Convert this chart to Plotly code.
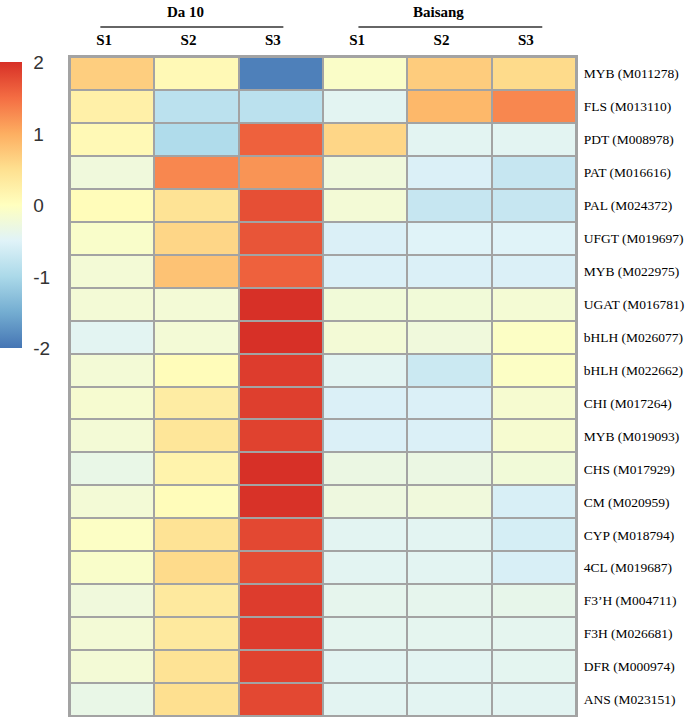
import plotly.graph_objects as go

columns = ["S1", "S2", "S3", "S1 ", "S2 ", "S3 "]
column_text = ["S1", "S2", "S3", "S1", "S2", "S3"]
groups = ["Da 10", "Baisang"]
genes = ["MYB (M011278)", "FLS (M013110)", "PDT (M008978)", "PAT (M016616)",
         "PAL (M024372)", "UFGT (M019697)", "MYB (M022975)", "UGAT (M016781)",
         "bHLH (M026077)", "bHLH (M022662)", "CHI (M017264)", "MYB (M019093)",
         "CHS (M017929)", "CM (M020959)", "CYP (M018794)", "4CL (M019687)",
         "F3\u2019H (M004711)", "F3H (M026681)", "DFR (M000974)", "ANS (M023151)"]

values = [
    [0.68, 0.10, -1.90, -0.08, 0.70, 0.55],
    [0.25, -0.85, -0.85, -0.45, 0.90, 1.30],
    [0.10, -0.95, 1.60, 0.60, -0.45, -0.45],
    [-0.25, 1.30, 1.20, -0.25, -0.55, -0.75],
    [0.05, 0.45, 1.75, -0.20, -0.75, -0.75],
    [-0.10, 0.60, 1.70, -0.55, -0.50, -0.50],
    [-0.20, 0.80, 1.60, -0.55, -0.55, -0.55],
    [-0.20, -0.20, 2.00, -0.22, -0.22, -0.18],
    [-0.45, -0.20, 2.00, -0.20, -0.25, -0.05],
    [-0.20, 0.05, 1.90, -0.45, -0.70, -0.05],
    [-0.15, 0.30, 1.88, -0.55, -0.55, -0.15],
    [-0.20, 0.40, 1.85, -0.55, -0.55, -0.15],
    [-0.35, 0.20, 2.00, -0.32, -0.32, -0.22],
    [-0.20, 0.05, 1.98, -0.28, -0.25, -0.58],
    [-0.05, 0.45, 1.80, -0.45, -0.45, -0.60],
    [-0.10, 0.55, 1.78, -0.45, -0.45, -0.58],
    [-0.25, 0.35, 1.90, -0.40, -0.40, -0.38],
    [-0.20, 0.35, 1.90, -0.42, -0.42, -0.42],
    [-0.20, 0.45, 1.85, -0.45, -0.45, -0.43],
    [-0.35, 0.50, 1.80, -0.45, -0.45, -0.45],
]

cbar_ticks = [2, 1, 0, -1, -2]
cbar_text = ["2", "1", "0", "-1", "-2"]

colorscale = [
    [0.0, "#4575b4"], [0.125, "#74add1"], [0.25, "#abd9e9"], [0.375, "#e0f3f8"],
    [0.5, "#ffffbf"], [0.625, "#fee090"], [0.75, "#fdae61"], [0.875, "#f46d43"],
    [1.0, "#d73027"],
]

W, H = 685, 717

fig = go.Figure(go.Heatmap(
    z=values, x=columns, y=genes,
    zmin=-2, zmax=2, colorscale=colorscale,
    xgap=2, ygap=2,
    colorbar=dict(
        xref="container", yref="container",
        x=0, xanchor="left", y=1 - 68 / H, yanchor="top",
        lenmode="pixels", len=286, thickness=22,
        outlinewidth=0, tickvals=cbar_ticks, ticktext=cbar_text,
        ticks="outside", ticklen=8, tickcolor="rgba(0,0,0,0)",
        tickfont=dict(family="Liberation Sans", size=19, color="#333333"),
        xpad=0, ypad=0,
    ),
))

serif = "Liberation Serif"
fig.update_layout(
    width=W, height=H,
    margin=dict(l=70, r=109, t=57, b=1, autoexpand=False),
    paper_bgcolor="white", plot_bgcolor="#a3a3a3",
    font=dict(family=serif, color="black"),
    xaxis=dict(side="top", tickvals=columns, ticktext=["<b>%s</b>" % t for t in column_text],
               tickfont=dict(family=serif, size=15, color="black"),
               ticks="outside", ticklen=4, tickcolor="rgba(0,0,0,0)",
               ticklabelshift=-8, automargin=False,
               showline=True, linecolor="#a3a3a3", linewidth=2, mirror=True,
               showgrid=False, zeroline=False),
    yaxis=dict(side="right", autorange="reversed", automargin=False,
               tickfont=dict(family=serif, size=13.5, color="black"),
               ticks="outside", ticklen=3, tickcolor="rgba(0,0,0,0)",
               showline=True, linecolor="#a3a3a3", linewidth=2, mirror=True,
               showgrid=False, zeroline=False),
)

# group headers and lines
group_spans = [(-0.14, 2.03), (2.92, 5.1)]
group_centers = [0.87, 3.87]
for name, (x0, x1), xc in zip(groups, group_spans, group_centers):
    fig.add_shape(type="line", xref="x", yref="paper", x0=x0, x1=x1,
                  y0=1 + 30 / 659, y1=1 + 30 / 659,
                  line=dict(color="#333333", width=1.5))
    fig.add_annotation(x=xc, y=1 + 55 / 659, xref="x", yref="paper",
                       text="<b>%s</b>" % name, showarrow=False,
                       font=dict(family=serif, size=15, color="black"))

fig.write_html("out.html", config={"displayModeBar": False},
               post_script="document.body.style.margin='0';document.body.style.overflow='hidden';")
